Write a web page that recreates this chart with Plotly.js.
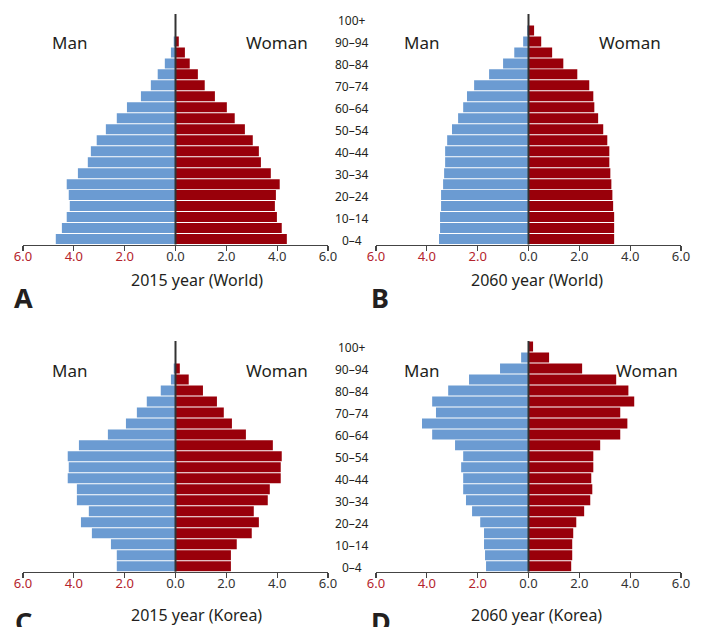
<!DOCTYPE html>
<html>
<head>
<meta charset="utf-8">
<script src="https://cdn.plot.ly/plotly-3.0.1.min.js"></script>
<style>html,body{margin:0;padding:0;background:#fff;}#chart{width:701px;height:627px;}</style>
</head>
<body>
<div id="chart"></div>
<script>
// ---- data ----
const ageGroups = ['0–4','5–9','10–14','15–19','20–24','25–29','30–34','35–39','40–44','45–49','50–54','55–59','60–64','65–69','70–74','75–79','80–84','85–89','90–94','95–99','100+'];
const ageLabels = ['0–4','10–14','20–24','30–34','40–44','50–54','60–64','70–74','80–84','90–94','100+'];
const tickValues = [-6,-4,-2,0,2,4,6];
const tickLabels = ['6.0','4.0','2.0','0.0','2.0','4.0','6.0'];

const worldMen2015   = [4.71,4.47,4.28,4.16,4.20,4.28,3.84,3.45,3.33,3.10,2.74,2.31,1.91,1.36,0.97,0.70,0.42,0.18,0.07,0,0];
const worldWomen2015 = [4.38,4.18,3.99,3.91,3.95,4.10,3.75,3.36,3.28,3.04,2.73,2.33,2.02,1.55,1.15,0.88,0.56,0.37,0.13,0,0];
const worldMen2060   = [3.52,3.48,3.48,3.44,3.44,3.36,3.32,3.28,3.28,3.20,3.01,2.77,2.57,2.42,2.14,1.55,1.00,0.56,0.21,0.05,0];
const worldWomen2060 = [3.37,3.37,3.37,3.33,3.30,3.26,3.22,3.18,3.18,3.10,2.94,2.74,2.59,2.55,2.39,1.92,1.37,0.93,0.50,0.22,0];
const koreaMen2015   = [2.31,2.31,2.54,3.29,3.72,3.41,3.88,3.88,4.24,4.20,4.24,3.80,2.66,1.95,1.52,1.13,0.58,0.18,0.07,0,0];
const koreaWomen2015 = [2.18,2.18,2.41,3.00,3.28,3.08,3.63,3.71,4.14,4.14,4.18,3.83,2.77,2.22,1.90,1.63,1.08,0.52,0.17,0,0];
const koreaMen2060   = [1.67,1.71,1.75,1.75,1.90,2.22,2.46,2.57,2.57,2.65,2.57,2.89,3.79,4.19,3.64,3.79,3.16,2.34,1.12,0.29,0];
const koreaWomen2060 = [1.68,1.72,1.72,1.76,1.88,2.19,2.43,2.51,2.47,2.55,2.55,2.82,3.61,3.89,3.61,4.16,3.93,3.45,2.11,0.81,0.18];

const panelTitles = ['2015 year (World)','2060 year (World)','2015 year (Korea)','2060 year (Korea)'];
const panelLetters = ['A','B','C','D'];
const sexLabels = ['Man','Woman'];

// ---- styling ----
const W = 701, H = 627;
const MEN = '#6b9bd2', WOMEN = '#99000a', RED = '#b4242d', DARK = '#333333', TXT = '#231f20';
const FONT = 'Noto Sans, Open Sans, sans-serif';
const px = v => v / W, py = v => 1 - v / H;

const panels = [
  {men: worldMen2015, women: worldWomen2015, xd: [23, 328],   yd: [14, 244.5]},
  {men: worldMen2060, women: worldWomen2060, xd: [376, 681],  yd: [14, 244.5]},
  {men: koreaMen2015, women: koreaWomen2015, xd: [23, 328],   yd: [341, 571.7]},
  {men: koreaMen2060, women: koreaWomen2060, xd: [376, 681],  yd: [341, 571.7]}
];
const manPos   = [[69, 43], [421.5, 43], [69, 370], [421.5, 370]];
const womanPos = [[276.5, 43], [630, 43], [276.5, 370], [646.5, 370]];
const titlePos = [[196.5, 280], [536.5, 280], [196, 615], [536, 615]];
const letterPos = [[12, 297.5], [369, 297.5], [13, 621], [369, 621]];

const ticktext = tickLabels.map((t, i) => tickValues[i] < 0 ? `<span style="color:${RED}">${t}</span>` : t);

const traces = [];
const layout = {
  width: W, height: H,
  margin: {l: 0, r: 0, t: 0, b: 0},
  paper_bgcolor: '#fff', plot_bgcolor: 'rgba(0,0,0,0)',
  showlegend: false,
  barmode: 'overlay',
  bargap: 0.09,
  font: {family: FONT, color: TXT},
  annotations: [],
  shapes: []
};

panels.forEach((p, i) => {
  const n = i + 1;
  const xa = 'x' + (n === 1 ? '' : n), ya = 'y' + (n === 1 ? '' : n);
  traces.push({
    type: 'bar', orientation: 'h', y: ageGroups, x: p.men.map(v => -v),
    xaxis: xa, yaxis: ya, marker: {color: MEN, line: {width: 0}}, hoverinfo: 'skip'
  });
  traces.push({
    type: 'bar', orientation: 'h', y: ageGroups, x: p.women,
    xaxis: xa, yaxis: ya, marker: {color: WOMEN, line: {width: 0}}, hoverinfo: 'skip'
  });
  layout['xaxis' + (n === 1 ? '' : n)] = {
    domain: [px(p.xd[0]), px(p.xd[1])], anchor: ya, range: [-6, 6],
    tickmode: 'array', tickvals: tickValues, ticktext: ticktext,
    ticks: 'outside', ticklen: 5, tickwidth: 1.2, tickcolor: '#444',
    ticklabelstandoff: -6,
    showline: true, linecolor: '#444', linewidth: 1.5,
    showgrid: false, zeroline: false, fixedrange: true,
    tickfont: {family: FONT, size: 13, color: DARK}
  };
  layout['yaxis' + (n === 1 ? '' : n)] = {
    domain: [py(p.yd[1]), py(p.yd[0])], anchor: xa, type: 'category',
    categoryorder: 'array', categoryarray: ageGroups, range: [-0.5, ageGroups.length - 0.5],
    showticklabels: false, ticks: '', showline: false, showgrid: false, zeroline: false, fixedrange: true
  };
  layout.shapes.push({
    type: 'line', xref: xa, yref: ya + ' domain', x0: 0, x1: 0, y0: 0, y1: 1,
    line: {color: DARK, width: 2}, layer: 'above'
  });
  layout.annotations.push(
    {text: sexLabels[0], xref: 'paper', yref: 'paper', x: px(manPos[i][0]), y: py(manPos[i][1]), xanchor: 'center', yanchor: 'middle', showarrow: false, font: {size: 17, color: TXT}},
    {text: sexLabels[1], xref: 'paper', yref: 'paper', x: px(womanPos[i][0]), y: py(womanPos[i][1]), xanchor: 'center', yanchor: 'middle', showarrow: false, font: {size: 17, color: TXT}},
    {text: panelTitles[i], xref: 'paper', yref: 'paper', x: px(titlePos[i][0]), y: py(titlePos[i][1]), xanchor: 'center', yanchor: 'middle', showarrow: false, font: {size: 16, color: TXT}},
    {text: '<b>' + panelLetters[i] + '</b>', xref: 'paper', yref: 'paper', x: px(letterPos[i][0]), y: py(letterPos[i][1]), xanchor: 'left', yanchor: 'middle', showarrow: false, font: {size: 27, color: TXT}}
  );
});

// age group labels between the columns (once per row of panels)
['y2', 'y4'].forEach(ya => {
  ageLabels.forEach(lbl => {
    layout.annotations.push({
      text: lbl, xref: 'paper', yref: ya, x: px(352.5), y: lbl,
      xanchor: 'center', yanchor: 'middle', yshift: -1, showarrow: false,
      font: {size: 12, color: TXT}
    });
  });
});

Plotly.newPlot('chart', traces, layout, {displayModeBar: false, staticPlot: true});
</script>
</body>
</html>
